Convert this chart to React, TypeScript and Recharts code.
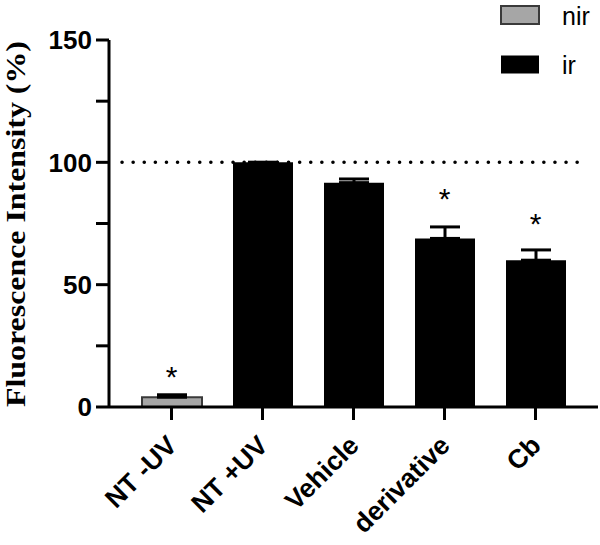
import { ComposedChart, Bar, Cell, ErrorBar, Scatter, XAxis, YAxis, ReferenceLine, Label } from 'recharts'

const categories = ['NT -UV', 'NT +UV', 'Vehicle', 'derivative', 'Cb']
const groups = ['nir', 'ir', 'ir', 'ir', 'ir']
const means = [4.0, 100, 91.7, 68.9, 60.0]
const sems = [1.0, 0, 1.5, 4.7, 4.2]
const starAt = [15.1, null, null, 87.9, 77.6]
const yTicks = [0, 25, 50, 75, 100, 125, 150]
const yLabels = [0, 50, 100, 150]
const legendItems = ['nir', 'ir']

const fills: Record<string, string> = { nir: '#a6a6a6', ir: '#000000' }
const strokes: Record<string, string> = { nir: '#3a3a3a', ir: '#000000' }

const data = categories.map((name, i) => ({
  name,
  value: means[i],
  err: [0, sems[i]],
  star: starAt[i],
  group: groups[i],
}))

const sans = 'Arial, "Liberation Sans", sans-serif'
const serif = '"Times New Roman", "Liberation Serif", serif'

function XTick({ x, y, payload }: any) {
  return (
    <g transform={`translate(${x + 7},${y + 27})`}>
      <text transform="rotate(-45)" textAnchor="end" fontFamily={sans} fontWeight="bold" fontSize={26.5} fill="#000">
        {payload.value}
      </text>
    </g>
  )
}

function YTick({ x, y, payload }: any) {
  if (!yLabels.includes(payload.value)) return <g />
  return (
    <text x={x} y={y} dy="0.36em" textAnchor="end" fontFamily={sans} fontWeight="bold" fontSize={26} fill="#000">
      {payload.value}
    </text>
  )
}

function Star({ cx, cy, payload }: any) {
  if (payload.star == null || !isFinite(cy)) return <g />
  return (
    <text x={cx} y={cy + 17} textAnchor="middle" fontFamily={sans} fontSize={30} fill="#000">
      *
    </text>
  )
}

// dotted 100% line, a little inset from both ends like the original
function DottedLine(p: any) {
  const left = Math.min(p.x1, p.x2) + 13
  const right = Math.max(p.x1, p.x2) - 11
  return (
    <line x1={left} y1={p.y1} x2={right} y2={p.y2} stroke="#000" strokeWidth={3.5}
      strokeDasharray="0.1 11" strokeLinecap="round" />
  )
}

export default function App() {
  return (
    <div style={{ position: 'absolute', left: 0, top: 0, width: 600, height: 545, background: '#fff' }}>
      <ComposedChart width={600} height={545} data={data} margin={{ top: 40, right: 2, bottom: 0, left: 0 }}>
        <XAxis dataKey="name" height={138} padding={{ left: 17, right: 17 }} tick={<XTick />}
          tickSize={13} tickMargin={0} axisLine={{ stroke: '#000', strokeWidth: 3 }}
          tickLine={{ stroke: '#000', strokeWidth: 3 }} interval={0} />
        <YAxis width={109} domain={[0, 150]} ticks={yTicks} tick={<YTick />} tickSize={13} tickMargin={4}
          axisLine={{ stroke: '#000', strokeWidth: 3 }} tickLine={{ stroke: '#000', strokeWidth: 3 }} interval={0}>
          <Label content={() => (
            <text transform="translate(25,224) rotate(-90)" textAnchor="middle" fontFamily={serif}
              fontWeight="bold" fontSize={28} textLength={366} lengthAdjust="spacingAndGlyphs" fill="#000">
              Fluorescence Intensity (%)
            </text>
          )} />
        </YAxis>
        <Bar dataKey="value" barSize={60} isAnimationActive={false}>
          {data.map((d, i) => (
            <Cell key={i} fill={fills[d.group]} stroke={strokes[d.group]} strokeWidth={d.group === 'nir' ? 2 : 0} />
          ))}
          <ErrorBar dataKey="err" direction="y" width={15} stroke="#000" strokeWidth={3} />
        </Bar>
        <ReferenceLine y={100} shape={DottedLine} />
        <Scatter dataKey="star" shape={Star} isAnimationActive={false} />
      </ComposedChart>
      <svg width={600} height={100} style={{ position: 'absolute', left: 0, top: 0 }}>
        {legendItems.map((k, i) => (
          <g key={k}>
            <rect x={501} y={6 + i * 49.5} width={38} height={18} fill={fills[k]}
              stroke={strokes[k]} strokeWidth={k === 'nir' ? 2 : 0} />
            <text x={562} y={25 + i * 49} fontFamily={sans} fontSize={25} fill="#000">{k}</text>
          </g>
        ))}
      </svg>
    </div>
  )
}
